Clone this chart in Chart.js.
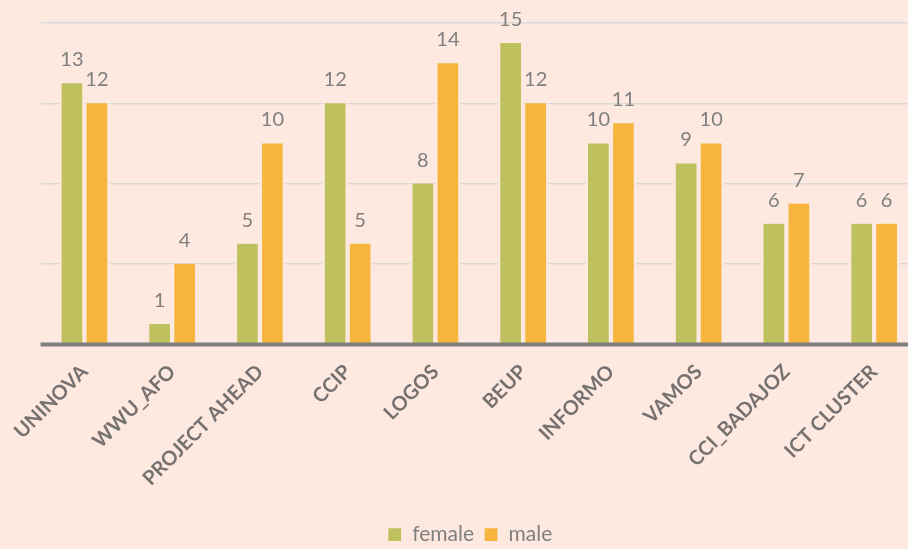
<!DOCTYPE html>
<html>
<head>
<meta charset="utf-8">
<script src="https://cdn.jsdelivr.net/npm/chart.js@4"></script>
<style>
  html,body{ margin:0; padding:0; background:#fde9df; overflow:hidden; }
  #wrap{ width:918px; height:549px; }
</style>
</head>
<body>
<div id="wrap"><canvas id="ch"></canvas></div>
<script>
// ── DATA ──
const categories=['UNINOVA','WWU_AFO','PROJECT AHEAD','CCIP','LOGOS','BEUP','INFORMO','VAMOS','CCI_BADAJOZ','ICT CLUSTER'];
const female=[13,1,5,12,8,15,10,9,6,6];
const male=[12,4,10,5,14,12,11,10,7,6];
const yTicks=[0,4,8,12,16];

const BG='#fde9df', GREEN='#bfc05e', ORANGE='#f6b53d', TXT='#767171';
const FONT='Lato, "Open Sans", sans-serif';

// value labels above bars + axis line on top of the bars
const valueLabels={
  id:'valueLabels',
  afterDatasetsDraw(chart){
    const c=chart.ctx, a=chart.chartArea;
    c.save();
    c.strokeStyle='#7f7f7f'; c.lineWidth=4;
    c.beginPath(); c.moveTo(a.left,a.bottom+0.5); c.lineTo(a.right,a.bottom+0.5); c.stroke();
    c.font='20px '+FONT; c.fillStyle='#7f7f7f';
    c.textAlign='center'; c.textBaseline='alphabetic';
    chart.data.datasets.forEach((ds,i)=>{
      chart.getDatasetMeta(i).data.forEach((bar,j)=>{
        c.fillText(ds.data[j], bar.x, bar.y-17);
      });
    });
    c.restore();
  }
};

// nudge legend a little left, like the original
const legendShift={
  id:'legendShift',
  afterLayout(chart){ if(chart.legend){ chart.legend.left-=9; chart.legend.right-=9; } }
};

const barStyle={ barThickness:25, borderColor:BG, borderSkipped:false,
  borderWidth:{left:2.5,right:2.5,top:0,bottom:0} };

new Chart(document.getElementById('ch'),{
  type:'bar',
  data:{ labels:categories, datasets:[
    { label:'female', data:female, backgroundColor:GREEN, ...barStyle },
    { label:'male', data:male, backgroundColor:ORANGE, ...barStyle }
  ]},
  options:{
    responsive:true, maintainAspectRatio:false, animation:false,
    layout:{ padding:{ left:40, right:0, top:23, bottom:-6 } },
    plugins:{
      tooltip:{ enabled:false },
      legend:{ position:'bottom',
        labels:{ color:'#7f7f7f', font:{ size:21, family:FONT }, boxWidth:14, boxHeight:14, padding:10, useBorderRadius:false } }
    },
    scales:{
      x:{ grid:{ display:false, drawTicks:false },
        border:{ display:false },
        ticks:{ color:TXT, font:{ size:20, weight:'bold', family:FONT }, maxRotation:45, minRotation:45, padding:16, autoSkip:false },
        afterFit(s){ s.height=170; } },
      y:{ min:0, max:16, display:true,
        afterBuildTicks(s){ s.ticks=yTicks.map(v=>({value:v})); },
        ticks:{ display:false },
        border:{ display:false },
        grid:{ color:'#d9d9d9', lineWidth:1.5, drawTicks:false } }
    }
  },
  plugins:[valueLabels, legendShift]
});
</script>
</body>
</html>
